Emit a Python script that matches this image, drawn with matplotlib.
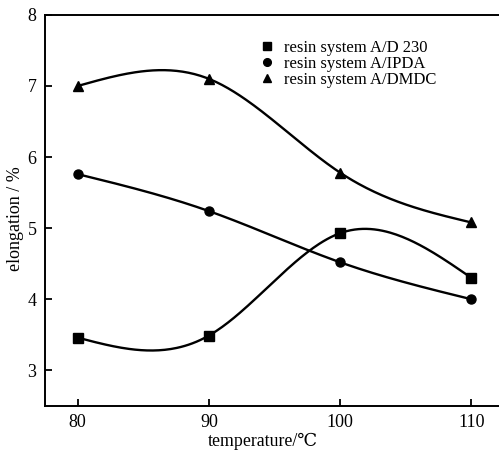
import numpy as np
import matplotlib
matplotlib.use("Agg")
import matplotlib.pyplot as plt

plt.rcParams['font.family'] = ['Liberation Serif', 'DejaVu Serif']

temperature = [80, 90, 100, 110]
d230 = [3.46, 3.49, 4.93, 4.30]
ipda = [5.76, 5.24, 4.52, 4.00]
dmdc = [7.00, 7.10, 5.78, 5.08]


def natural_spline(x, y, n=200):
    # natural cubic spline, just for drawing the smooth curve
    x = np.asarray(x, float)
    y = np.asarray(y, float)
    k = len(x)
    h = np.diff(x)
    A = np.zeros((k, k))
    b = np.zeros(k)
    A[0, 0] = A[-1, -1] = 1
    for i in range(1, k - 1):
        A[i, i - 1] = h[i - 1]
        A[i, i] = 2 * (h[i - 1] + h[i])
        A[i, i + 1] = h[i]
        b[i] = 3 * ((y[i + 1] - y[i]) / h[i] - (y[i] - y[i - 1]) / h[i - 1])
    c = np.linalg.solve(A, b)
    xs = np.linspace(x[0], x[-1], n)
    ys = np.empty_like(xs)
    for j, xv in enumerate(xs):
        i = min(np.searchsorted(x, xv, side='right') - 1, k - 2)
        dx = xv - x[i]
        bb = (y[i + 1] - y[i]) / h[i] - h[i] * (2 * c[i] + c[i + 1]) / 3
        d = (c[i + 1] - c[i]) / (3 * h[i])
        ys[j] = y[i] + bb * dx + c[i] * dx ** 2 + d * dx ** 3
    return xs, ys


fig = plt.figure(figsize=(4.99, 4.51), dpi=100)
ax = fig.add_axes([0.090, 0.100, 0.910, 0.867])

series = [
    (d230, 's', "resin system A/D 230"),
    (ipda, 'o', "resin system A/IPDA"),
    (dmdc, '^', "resin system A/DMDC"),
]
for vals, mk, lab in series:
    xs, ys = natural_spline(temperature, vals)
    ax.plot(xs, ys, color='black', lw=1.7)
    ax.plot(temperature, vals, linestyle='none', marker=mk, color='black',
            markersize=6.5 if mk != '^' else 7.5, label=lab)

ax.set_xlim(77.5, 112.1)
ax.set_ylim(2.5, 8)
ax.set_xticks(temperature)
ax.set_yticks([3, 4, 5, 6, 7, 8])
ax.tick_params(direction='in', length=5, width=1.3, labelsize=13, pad=6)
ax.spines['right'].set_visible(False)
for s in ['left', 'bottom', 'top']:
    ax.spines[s].set_linewidth(1.4)

ax.set_xlabel("temperature/℃", fontsize=12.8)
ax.xaxis.set_label_coords(0.48, -0.07)
ax.set_ylabel("elongation / %", fontsize=13)
ax.yaxis.set_label_coords(-0.047, 0.48)

ax.legend(loc='upper left', bbox_to_anchor=(0.474, 0.937), frameon=False,
          borderpad=0, borderaxespad=0, handlelength=0.8, handletextpad=0.62,
          labelspacing=0.0, fontsize=12, markerscale=0.85)

fig.savefig("out.png", dpi=100)
